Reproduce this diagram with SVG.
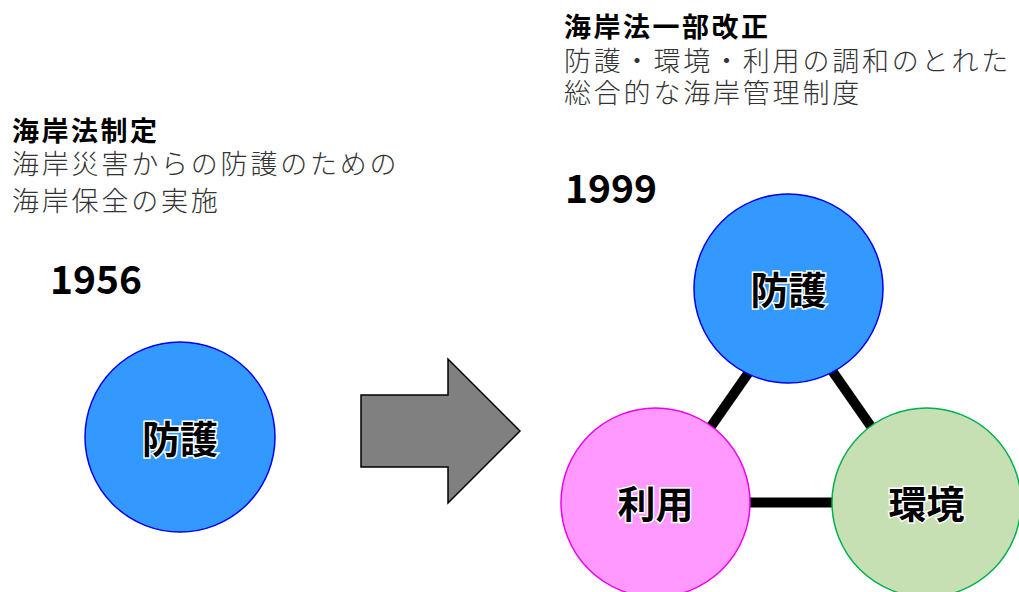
<svg xmlns="http://www.w3.org/2000/svg" width="1019" height="592" viewBox="0 0 1019 592">
<style>
.h{font-family:"Noto Sans CJK JP","Noto Sans",sans-serif;font-weight:bold;font-size:27px;fill:#000;letter-spacing:2.5px}
.d{font-family:"Noto Sans CJK JP","Noto Sans",sans-serif;font-weight:300;font-size:27px;fill:#333;letter-spacing:2.8px}
.y{font-family:"Noto Sans CJK JP","Noto Sans",sans-serif;font-weight:bold;font-size:39px;fill:#000}
.lbl{font-family:"Noto Sans CJK JP","Noto Sans",sans-serif;font-weight:bold;font-size:38px;fill:#000;stroke:#fff;stroke-width:3px;paint-order:stroke;text-anchor:middle;dominant-baseline:central}
.con{stroke:#000;stroke-width:10;fill:none}
</style>
<rect width="1019" height="592" fill="#fff"/>
<g id="text-1956">
<text class="h" x="12" y="141">海岸法制定</text>
<text class="d" x="12" y="174">海岸災害からの防護のための</text>
<text class="d" x="12" y="211">海岸保全の実施</text>
<text class="y" x="50" y="294">1956</text>
</g>
<g id="text-1999">
<text class="h" x="564" y="37">海岸法一部改正</text>
<text class="d" x="564" y="71">防護・環境・利用の調和のとれた</text>
<text class="d" x="564" y="103">総合的な海岸管理制度</text>
<text class="y" x="565" y="203">1999</text>
</g>
<g id="connectors">
<line class="con" x1="756" y1="362" x2="703" y2="438"/>
<line class="con" x1="826" y1="362" x2="879" y2="438"/>
<line class="con" x1="740" y1="502.5" x2="845" y2="502.5"/>
</g>
<g id="arrow">
<polygon points="361,395 448,395 448,359 520,431 448,503 448,467 361,467" fill="#808080" stroke="#000" stroke-width="1.5"/>
</g>
<g id="node-bougo-1956">
<circle cx="180" cy="437" r="95" fill="#3399ff" stroke="#0000ee" stroke-width="1.5"/>
<text class="lbl" x="180" y="436">防護</text>
</g>
<g id="node-bougo">
<circle cx="788.5" cy="288.5" r="94.5" fill="#3399ff" stroke="#0000ee" stroke-width="1.5"/>
<text class="lbl" x="788.5" y="287">防護</text>
</g>
<g id="node-riyou">
<circle cx="655.5" cy="502.5" r="94.5" fill="#ff99ff" stroke="#ee00ee" stroke-width="1.5"/>
<text class="lbl" x="655.5" y="501">利用</text>
</g>
<g id="node-kankyou">
<circle cx="926.5" cy="502.5" r="94.5" fill="#c6e0b4" stroke="#00b050" stroke-width="1.5"/>
<text class="lbl" x="926.5" y="501">環境</text>
</g>
</svg>
